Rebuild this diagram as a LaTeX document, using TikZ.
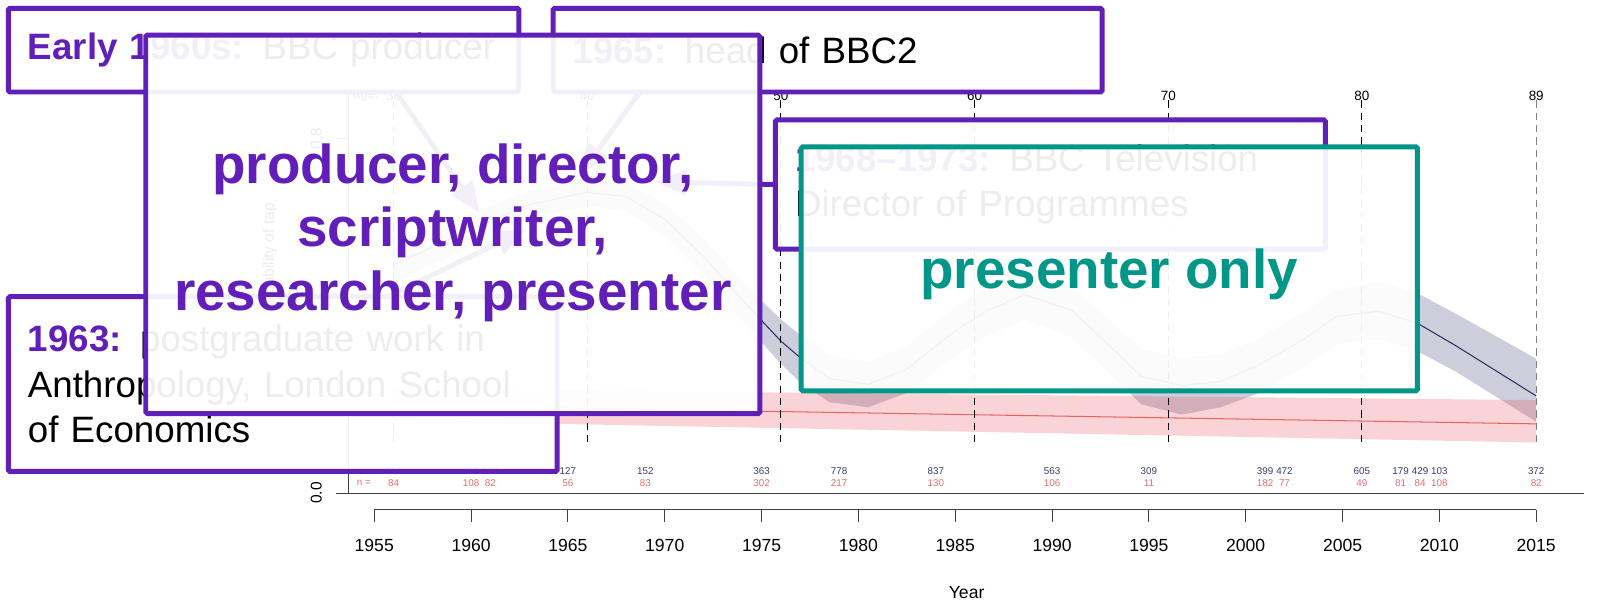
\documentclass[tikz,border=0pt]{standalone}
\usepackage{fontspec}
\setmainfont{Liberation Sans}
\usetikzlibrary{arrows.meta}

\definecolor{bbcpurple}{RGB}{98,30,184}
\definecolor{presteal}{RGB}{0,150,136}
\definecolor{navyline}{RGB}{45,45,95}
\definecolor{navyband}{RGB}{40,40,100}
\definecolor{redline}{RGB}{232,100,100}
\definecolor{redband}{RGB}{235,80,90}
\definecolor{nblue}{RGB}{60,60,105}
\definecolor{nred}{RGB}{228,110,115}

\tikzset{eventbox/.style={draw=bbcpurple,line width=4.8pt,fill=white,fill opacity=0.93,text opacity=1,
           rounded corners=1.5pt,anchor=north west,outer sep=0pt,inner xsep=19pt,inner ysep=0pt,
           align=left,font=\fontsize{35.5}{44}\selectfont},
         rolebox/.style={eventbox,inner xsep=0pt},
         roletext/.style={align=center,font=\fontsize{53}{61.5}\selectfont\bfseries},
         agedash/.style={dash pattern=on 7pt off 5pt,line width=0.9pt},
         evarrow/.style={bbcpurple,line width=4.8pt,-{Triangle[length=30pt,width=24pt]}},
         small/.style={font=\fontsize{9.5}{11}\selectfont},
         ticklab/.style={font=\fontsize{17}{20}\selectfont}}
\newcommand{\when}[1]{\textcolor{bbcpurple}{\bfseries #1}}

\begin{document}
\begin{tikzpicture}[x=1pt,y=-1pt]
\useasboundingbox[fill=white] (0,0) rectangle (1568,581);

% plot frame
\draw[line width=0.9pt,black!75] (325,477) -- (1532,477);
\draw[line width=0.9pt,black!75] (337,477) -- (337,48);
\draw[line width=0.9pt,black!75] (325,134) -- (337,134);
\node[rotate=90,font=\fontsize{15}{18}\selectfont] (y0) at (306,477) {0.0};
\node[rotate=90,font=\fontsize{15}{18}\selectfont] (y8) at (306,134) {0.8};
\node[rotate=90,anchor=east,font=\fontsize{15}{18}\selectfont] (ylab) at (261,193) {Probability of tap};
\node[font=\fontsize{13}{15}\selectfont] (agelab) at (354,93) {age:};
\node[small,nred] (nlab) at (352,467.5) {n =};
\node[ticklab] (xlab) at (935,573) {Year};

\begin{scope}[xshift=362pt,x=18.733pt]
  % confidence bands
  \fill[navyband,opacity=0.23] plot coordinates {(1,238) (5,206) (8,185) (11,174) (13,177) (15,197)
    (17,231) (19,272) (20,291) (21,309) (22,324) (23.5,344) (25.5,350) (27.5,335) (30,297) (31.6,278)
    (33.6,262) (36,276) (38,310) (39.6,338) (41.7,346) (43.7,343) (45.7,327) (48,302) (49.7,280)
    (51.9,273) (53.9,284) (55.9,304) (60,347)}
    -- plot coordinates {(60,408) (55.9,360) (53.9,340) (51.9,328) (49.7,333) (48,355) (45.7,380)
    (43.7,394) (41.7,401) (39.6,391) (38,362) (36,326) (33.6,309) (31.6,325) (30,344) (27.5,380)
    (25.5,394) (23.5,389) (22,370) (21,352) (20,331) (19,310) (17,266) (15,228) (13,204) (11,199)
    (8,212) (5,238) (1,274)} -- cycle;
  \fill[redband,opacity=0.25] (1,376) -- (60,387) -- (60,428) -- (1,407) -- cycle;
  \draw[redline,line width=1pt] (1,392) -- (60,410);
  \draw[navyline,line width=1pt] plot coordinates {(1,256) (5,222) (8,198) (11,186) (13,190) (15,212)
    (17,248) (19,290) (20,310) (21,330) (22,346) (23.5,366) (25.5,372) (27.5,357) (30,320) (31.6,301)
    (33.6,285) (36,300) (38,335) (39.6,364) (41.7,373) (43.7,369) (45.7,353) (48,328) (49.7,306)
    (51.9,301) (53.9,313) (55.9,335) (60,383)};
  % ages
  \foreach \t/\age in {1/30,11/40,21/50,31/60,41/70,51/80}{
    \draw[agedash] (\t,97) -- (\t,432);
    \node[font=\fontsize{13}{15}\selectfont] at (\t,93) {\age};
  }
  \draw[agedash,black!50] (60,97) -- (60,432);
  \node[font=\fontsize{13}{15}\selectfont] at (60,93) {89};
  % counts
  \foreach \t/\nb/\nr in {1/101/84,5/116/108,6/163/82,10/127/56,14/152/83,20/363/302,24/778/217,
      29/837/130,35/563/106,40/309/11,46/399/182,47/472/77,51/605/49,53/179/81,54/429/84,
      55/103/108,60/372/82}{
    \node[small,nblue] at (\t,456) {\nb};
    \node[small,nred] at (\t,467.5) {\nr};
  }
  % year axis
  \draw[line width=0.9pt,black!75] (0,493) -- (60,493);
  \foreach \yy in {1955,1960,...,2015}{
    \pgfmathtruncatemacro\t{\yy-1955}
    \draw[line width=0.9pt,black!75] (\t,493) -- (\t,505);
    \node[ticklab] at (\t,528) {\yy};
  }
\end{scope}

% career events
\node[eventbox,text width=456pt,minimum height=81pt] (early) at (8,8) {\when{Early 1960s:} BBC producer};
\node[eventbox,text width=493pt,minimum height=81pt] (head65) at (535,8) {\when{1965:} head of BBC2};
\node[eventbox,text width=493pt,minimum height=169pt] (pg63) at (8,287)
  {\when{1963:} postgraduate work in\\Anthropology, London School\\of Economics};
\node[eventbox,text width=494pt,minimum height=125pt] (dir68) at (750,116)
  {\when{1968--1973:} BBC Television\\Director of Programmes};

\coordinate (tipEarly) at (464,206);
\coordinate (tip65) at (561,169);
\coordinate (tip63) at (509,222);
\coordinate (tip68) at (634,176);
\draw[evarrow] ([xshift=375pt]early.south west) -- (tipEarly);
\draw[evarrow] ([xshift=84pt]head65.south west) -- (tip65);
\draw[evarrow] ([xshift=367pt]pg63.north west) -- (tip63);
\draw[evarrow] (dir68.west) -- (tip68);

% roles
\node[rolebox,text width=594pt,minimum height=366pt] (roles) at (141,34) {};
\node[roletext,text=bbcpurple] (rolestext) at ([yshift=-8pt]roles.center)
  {producer, director,\\scriptwriter,\\researcher, presenter};
\node[rolebox,draw=presteal,text width=596pt,minimum height=236pt] (presonly) at (775,142) {};
\node[roletext,text=presteal] (prestext) at ([yshift=-5pt]presonly.center) {presenter only};
\end{tikzpicture}
\end{document}
